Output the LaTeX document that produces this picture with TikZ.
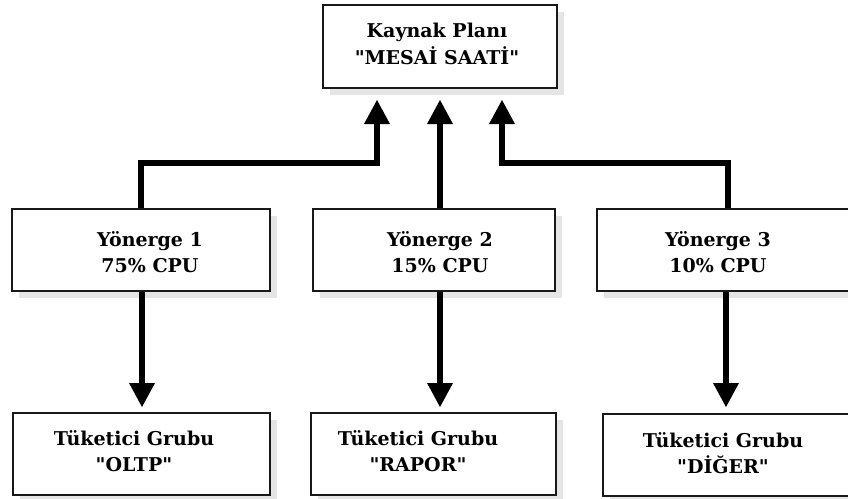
\documentclass[tikz,border=0pt]{standalone}
\usepackage{fontspec}
\newfontfamily\boxfont{DejaVu Serif}[Ligatures=ResetAll]
\usetikzlibrary{arrows.meta,shadows}
\begin{document}
\begin{tikzpicture}[x=1pt,y=-1pt,
  box/.style={draw=black!90, line width=2.8pt, fill=white, inner sep=0pt,
    general shadow={fill=black!10, shadow xshift=7pt, shadow yshift=-7pt}},
  txt/.style={align=center, font=\boxfont\bfseries\fontsize{19}{26.5}\selectfont, inner sep=0pt},
  flow/.style={line width=5.5pt, line join=miter,
    -{Triangle[width=26pt,length=24pt,line width=0pt]}}]
\useasboundingbox (0,0) rectangle (848,498);

% resource plan
\node[box, minimum width=234pt, minimum height=83pt] (plan) at (440,46.5) {};
\node[txt] (planT) at (437,44) {Kaynak Planı\\"MESAİ SAATİ"};

% directives
\node[box, minimum width=258pt, minimum height=82pt] (d1) at (141,250) {};
\node[box, minimum width=242pt, minimum height=82pt] (d2) at (434,250) {};
\node[box, minimum width=262pt, minimum height=82pt] (d3) at (728,250) {};
\node[txt] (d1T) at (150,252) {Yönerge 1\\75\% CPU};
\node[txt] (d2T) at (440,252) {Yönerge 2\\15\% CPU};
\node[txt] (d3T) at (718,252) {Yönerge 3\\10\% CPU};

% consumer groups
\node[box, minimum width=257pt, minimum height=82pt] (g1) at (141.5,454) {};
\node[box, minimum width=245pt, minimum height=82pt] (g2) at (433.5,454) {};
\node[box, minimum width=246pt, minimum height=82pt] (g3) at (726,455) {};
\node[txt] (g1T) at (134,451) {Tüketici Grubu\\"OLTP"};
\node[txt] (g2T) at (418,451) {Tüketici Grubu\\"RAPOR"};
\node[txt] (g3T) at (723,453) {Tüketici Grubu\\"DİĞER"};

% arrow ends and bends
\coordinate (tipL) at (377,100);
\coordinate (tipM) at (440,100);
\coordinate (tipR) at (502,100);
\coordinate (jL) at (377,163);
\coordinate (jR) at (502,163);
\coordinate (dn1) at (142,407);
\coordinate (dn2) at (440,407);
\coordinate (dn3) at (726,407);

% directives feed the plan
\draw[flow] (d1.north) |- (jL) -- (tipL);
\draw[flow] (tipM |- d2.north) -- (tipM);
\draw[flow] (d3.north) |- (jR) -- (tipR);

% directives govern the groups
\draw[flow] (dn1 |- d1.south) -- (dn1);
\draw[flow] (dn2 |- d2.south) -- (dn2);
\draw[flow] (dn3 |- d3.south) -- (dn3);
\end{tikzpicture}
\end{document}
